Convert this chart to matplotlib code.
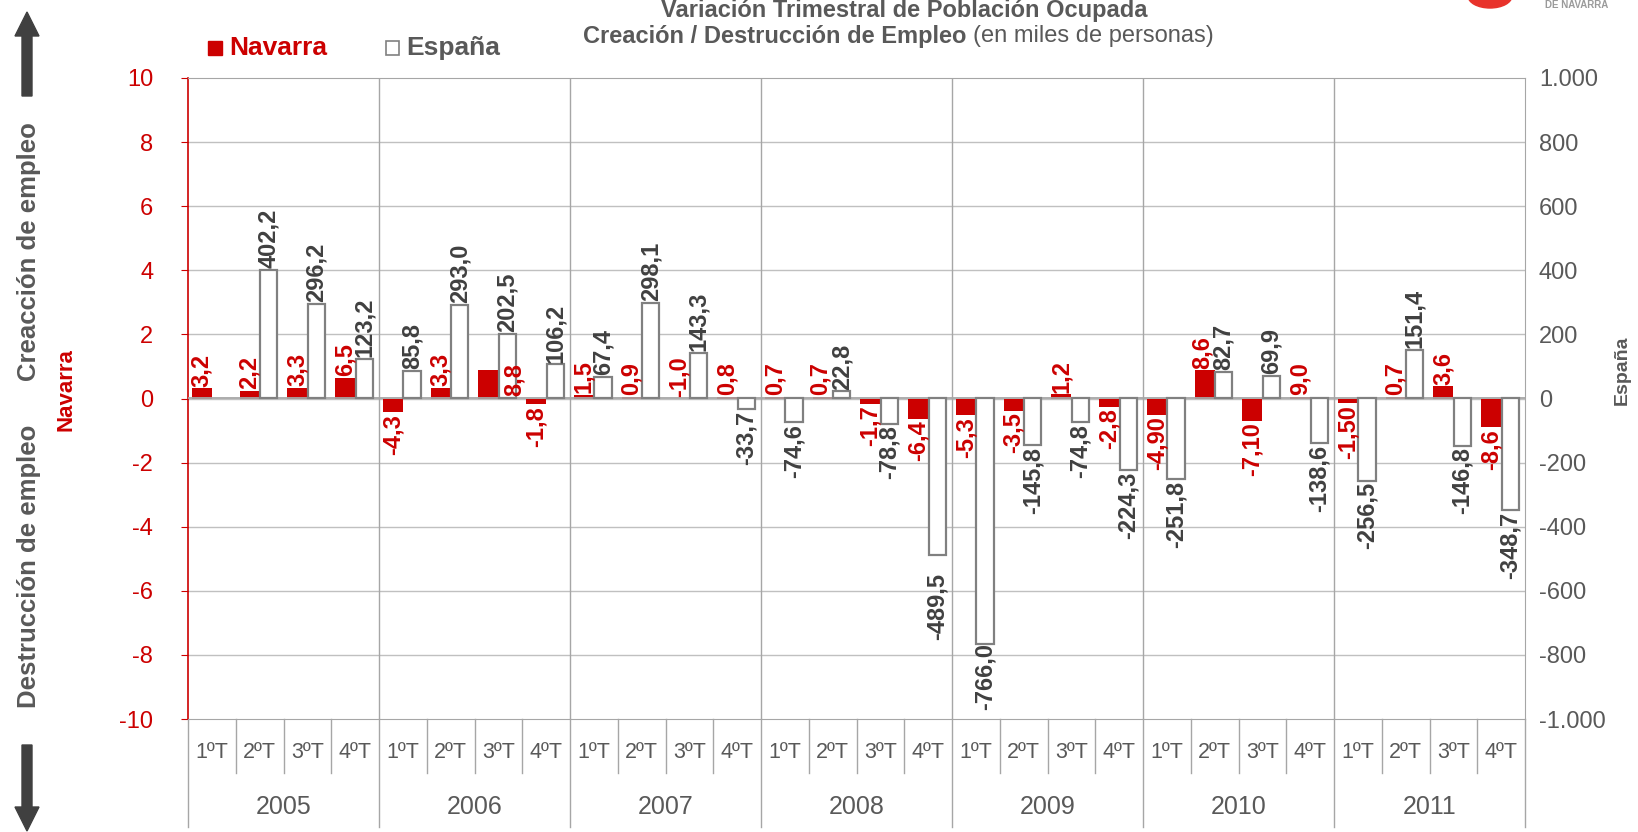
import numpy as np
import matplotlib
matplotlib.use("Agg")
import matplotlib.pyplot as plt
from matplotlib.patches import Rectangle, FancyArrow, Ellipse
from matplotlib.ticker import FuncFormatter

# datos
years = ["2005", "2006", "2007", "2008", "2009", "2010", "2011"]
quarters = ["1ºT", "2ºT", "3ºT", "4ºT"]

# Navarra: etiqueta tal como aparece y altura de la barra (eje izquierdo)
navarra_labels = ["3,2", "2,2", "3,3", "6,5",
                  "-4,3", "3,3", "8,8", "-1,8",
                  "1,5", "0,9", "-1,0", "0,8",
                  "0,7", "0,7", "-1,7", "-6,4",
                  "-5,3", "-3,5", "1,2", "-2,8",
                  "-4,90", "8,6", "-7,10", "9,0",
                  "-1,50", "0,7", "3,6", "-8,6"]
navarra_bars = [0.32, 0.24, 0.33, 0.65,
                -0.43, 0.33, 0.88, -0.18,
                0.12, 0.06, 0.0, 0.05,
                0.05, 0.05, -0.17, -0.64,
                -0.53, -0.38, 0.13, -0.26,
                -0.51, 0.88, -0.70, 0.05,
                -0.15, 0.05, 0.38, -0.90]

# España (miles de personas, eje derecho)
espana = [np.nan, 402.2, 296.2, 123.2,
          85.8, 293.0, 202.5, 106.2,
          67.4, 298.1, 143.3, -33.7,
          -74.6, 22.8, -78.8, -489.5,
          -766.0, -145.8, -74.8, -224.3,
          -251.8, 82.7, 69.9, -138.6,
          -256.5, 151.4, -146.8, -348.7]

RED = "#CC0000"
DARK = "#404040"
GREY = "#595959"
GRID = "#C0C0C0"
plt.rcParams["font.family"] = ["Liberation Sans", "DejaVu Sans"]
plt.rcParams["axes.unicode_minus"] = False

W, H = 1638, 832
fig = plt.figure(figsize=(W / 100, H / 100), dpi=100)
L, R, T, B = 188, 1525, 78, 719
ax = fig.add_axes([L / W, 1 - B / H, (R - L) / W, (B - T) / H])
ax2 = ax.twinx()

n = len(navarra_bars)
x = np.arange(n)
ax.set_xlim(-0.5, n - 0.5)
ax.set_ylim(-10, 10)
ax2.set_ylim(-1000, 1000)

# barras
ax.bar(x - 0.42, navarra_bars, width=0.42, align="edge", color=RED, zorder=3)
ax2.bar(x + 0.01, espana, width=0.36, align="edge", facecolor="white",
        edgecolor="#808080", linewidth=1.6, zorder=3)

# rejilla
for yv in np.arange(-8, 10, 2):
    ax.axhline(yv, color=GRID, lw=1, zorder=0)
ax2.axhline(0, color="#A6A6A6", lw=1.3, zorder=2)
for k in range(1, len(years)):
    ax.axvline(4 * k - 0.5, color="#A6A6A6", lw=1, zorder=0)

# ejes
for s in ["top", "right", "bottom"]:
    ax.spines[s].set_visible(False)
ax2.spines["left"].set_visible(False)
for s in ["top", "bottom", "right"]:
    ax2.spines[s].set_color("#A6A6A6")
ax.spines["left"].set_color(RED)
ax.spines["left"].set_linewidth(1.2)

ax.set_yticks(np.arange(-10, 11, 2))
ax.tick_params(axis="y", colors=RED, labelsize=17, length=5, pad=20)
ax.set_xticks([])
ax2.set_yticks(np.arange(-1000, 1001, 200))
ax2.yaxis.set_major_formatter(FuncFormatter(lambda v, p: f"{v:,.0f}".replace(",", ".")))
ax2.tick_params(axis="y", colors=GREY, labelsize=17, length=0, pad=10)

# eje de categorías (trimestres / años)
tr = ax.get_xaxis_transform()
for i in range(n):
    ax.text(x[i], -0.052, quarters[i % 4], transform=tr, ha="center", va="center",
            fontsize=15.5, color=GREY)
for i in range(n + 1):
    low = -0.168 if i % 4 == 0 else -0.085
    ax.plot([i - 0.5, i - 0.5], [0, low], transform=tr, color="#A6A6A6",
            lw=1, clip_on=False)
for k, yr in enumerate(years):
    ax.text(4 * k + 1.5, -0.138, yr, transform=tr, ha="center", va="center",
            fontsize=18, color=GREY)

# etiquetas de datos (dibujadas en ax2 para quedar encima de todas las barras)
LAB = 17
nudge = {6: (0.55, -0.85), 21: (-0.04, 0.0), 13: (-0.05, 0.0)}
for i in range(n):
    v = navarra_bars[i]
    xc = x[i] - 0.21
    dx, dy = nudge.get(i, (0.0, 0.0))
    if i == 6 or v >= 0:
        yy, va = v + 0.05 + dy, "bottom"
    else:
        yy, va = v - 0.05 + dy, "top"
    ax2.text(xc + dx, yy, navarra_labels[i], transform=ax.transData, rotation=90,
             ha="center", va=va, color=RED, fontsize=LAB, fontweight="bold",
             zorder=6)

esp_nudge = {15: -50, 16: 8}
for i in range(n):
    v = espana[i]
    if np.isnan(v):
        continue
    s = f"{v:.1f}".replace(".", ",")
    xc = x[i] + 0.19
    off = esp_nudge.get(i, 0)
    if v >= 0:
        ax2.text(xc, v + 5 + off, s, rotation=90, ha="center", va="bottom",
                 color=DARK, fontsize=LAB, fontweight="bold", zorder=6)
    else:
        ax2.text(xc, v - 5 + off, s, rotation=90, ha="center", va="top",
                 color=DARK, fontsize=LAB, fontweight="bold", zorder=6)

# títulos de ejes
fig.text(29 / W, 1 - 252 / H, "Creacción de empleo", rotation=90, ha="center",
         va="center", fontsize=18.5, fontweight="bold", color=GREY)
fig.text(29 / W, 1 - 566 / H, "Destrucción de empleo", rotation=90, ha="center",
         va="center", fontsize=18.5, fontweight="bold", color=GREY)
fig.text(66 / W, 1 - 390 / H, "Navarra", rotation=90, ha="center", va="center",
         fontsize=16, fontweight="bold", color=RED)
fig.text(1622 / W, 1 - 370 / H, "España", rotation=90, ha="center", va="center",
         fontsize=14, fontweight="bold", color=GREY)

# flechas
fig.patches.append(FancyArrow(27 / W, 1 - 96 / H, 0, 84 / H, width=10 / W,
                              head_width=24 / W, head_length=24 / H,
                              length_includes_head=True, color=DARK,
                              transform=fig.transFigure))
fig.patches.append(FancyArrow(27 / W, 1 - 745 / H, 0, -86 / H, width=10 / W,
                              head_width=24 / W, head_length=24 / H,
                              length_includes_head=True, color=DARK,
                              transform=fig.transFigure))

# título
fig.text(904 / W, 1 - 10 / H, "Variación Trimestral de Población Ocupada",
         ha="center", va="center", fontsize=17, fontweight="bold", color=GREY)
fig.text(973 / W, 1 - 36 / H, "Creación / Destrucción de Empleo ",
         ha="right", va="center", fontsize=17, fontweight="bold", color=GREY)
fig.text(973 / W, 1 - 36 / H, "(en miles de personas)", ha="left",
         va="center", fontsize=17, color=GREY)

# leyenda
fig.patches.append(Rectangle((208 / W, 1 - 55 / H), 14 / W, 14 / H, color=RED,
                             transform=fig.transFigure))
fig.text(229 / W, 1 - 48 / H, "Navarra", ha="left", va="center", fontsize=19,
         fontweight="bold", color=RED)
fig.patches.append(Rectangle((386 / W, 1 - 55 / H), 13 / W, 14 / H,
                             facecolor="white", edgecolor="#808080", lw=1.2,
                             transform=fig.transFigure))
fig.text(406 / W, 1 - 48 / H, "España", ha="left", va="center", fontsize=19,
         fontweight="bold", color=GREY)

# logo (recortado)
fig.patches.append(Ellipse((1490 / W, 1 + 4 / H), 44 / W, 24 / H,
                           color="#E8322B", transform=fig.transFigure))
fig.text(1545 / W, 1 - 5 / H, "DE NAVARRA", ha="left", va="center",
         fontsize=7, fontweight="bold", color="#9A9A9A")

fig.savefig("out.png", dpi=100)
